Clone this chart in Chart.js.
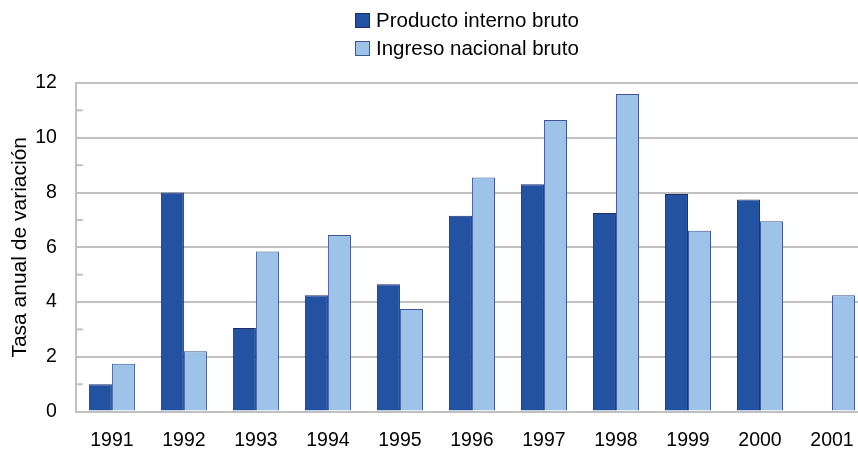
<!DOCTYPE html>
<html lang="es">
  <head>
    <meta charset="UTF-8" />
    <title>Tasa anual de variación</title>
    <script src="https://cdn.jsdelivr.net/npm/chart.js"></script>
    <style>
      html, body { margin: 0; padding: 0; overflow: hidden; background: #fff; }
      #wrap { position: relative; width: 868px; height: 455px; }
      #legend {
        position: absolute; left: 355px; top: 6px;
        font-family: "Liberation Sans", Arial, sans-serif; font-size: 20.5px; color: #000;
      }
      #legend div { display: flex; align-items: center; height: 28px; }
      #legend span.box {
        display: inline-block; width: 15px; height: 15px; margin-right: 6px;
        border: 1px solid #1f2d6b; box-sizing: border-box;
      }
    </style>
  </head>
  <body>
    <div id="wrap">
      <canvas id="chart" width="868" height="455"></canvas>
      <div id="legend"></div>
    </div>

    <script>
      // data
      var years = ["1991", "1992", "1993", "1994", "1995", "1996", "1997", "1998", "1999", "2000", "2001"];
      var pib = [1.0, 8.0, 3.05, 4.25, 4.65, 7.15, 8.3, 7.25, 7.95, 7.75, null];
      var inb = [1.75, 2.2, 5.85, 6.45, 3.75, 8.55, 10.65, 11.6, 6.6, 6.95, 4.25];
      var seriesNames = ["Producto interno bruto", "Ingreso nacional bruto"];
      var seriesColors = ["#2352a3", "#9dc3e8"];
      var seriesBorders = ["#1f2d6b", "#3e5596"];

      var font = "'Liberation Sans', Arial, sans-serif";
      var gray = "#c0c0c0";

      // small tick marks at odd values, drawn inside the plot
      var minorTicks = {
        id: "minorTicks",
        afterDraw: function (chart) {
          var y = chart.scales.y;
          var ctx = chart.ctx;
          ctx.save();
          ctx.strokeStyle = gray;
          ctx.lineWidth = 2;
          for (var v = 1; v < 12; v += 2) {
            var py = y.getPixelForValue(v);
            ctx.beginPath();
            ctx.moveTo(chart.chartArea.left, py);
            ctx.lineTo(chart.chartArea.left + 7, py);
            ctx.stroke();
          }
          ctx.restore();
        },
      };

      var ctx = document.getElementById("chart").getContext("2d");
      var chart = new Chart(ctx, {
        type: "bar",
        data: {
          labels: years,
          datasets: [
            {
              label: seriesNames[0],
              data: pib,
              backgroundColor: seriesColors[0],
              borderColor: seriesBorders[0],
              borderWidth: 1,
            },
            {
              label: seriesNames[1],
              data: inb,
              backgroundColor: seriesColors[1],
              borderColor: seriesBorders[1],
              borderWidth: 1,
            },
          ],
        },
        options: {
          responsive: false,
          animation: false,
          layout: { padding: { top: 83, bottom: 3, left: 0, right: 0 } },
          datasets: { bar: { categoryPercentage: 0.64, barPercentage: 1.0 } },
          plugins: {
            legend: { display: false },
            tooltip: { enabled: false },
          },
          scales: {
            x: {
              grid: {
                drawOnChartArea: false,
                color: "rgba(0,0,0,0)",
                tickColor: "rgba(0,0,0,0)",
                tickLength: 17,
              },
              border: { color: gray, width: 2 },
              ticks: { color: "#000", font: { family: font, size: 19.5 }, padding: 0 },
            },
            y: {
              min: 0,
              max: 12,
              ticks: {
                stepSize: 2,
                color: "#000",
                padding: 0,
                font: { family: font, size: 19.5 },
              },
              grid: { color: gray, lineWidth: 2, tickColor: "rgba(0,0,0,0)", tickLength: 19 },
              border: { color: gray, width: 2 },
              title: {
                display: true,
                text: "Tasa anual de variación",
                color: "#000",
                font: { family: font, size: 21 },
                padding: { top: 8, bottom: 2 },
              },
            },
          },
        },
        plugins: [minorTicks],
      });

      // legend in two rows, like the original
      var legend = document.getElementById("legend");
      chart.data.datasets.forEach(function (ds, i) {
        var row = document.createElement("div");
        var box = document.createElement("span");
        box.className = "box";
        box.style.background = ds.backgroundColor;
        box.style.borderColor = seriesBorders[i];
        row.appendChild(box);
        row.appendChild(document.createTextNode(ds.label));
        legend.appendChild(row);
      });
    </script>
  </body>
</html>
